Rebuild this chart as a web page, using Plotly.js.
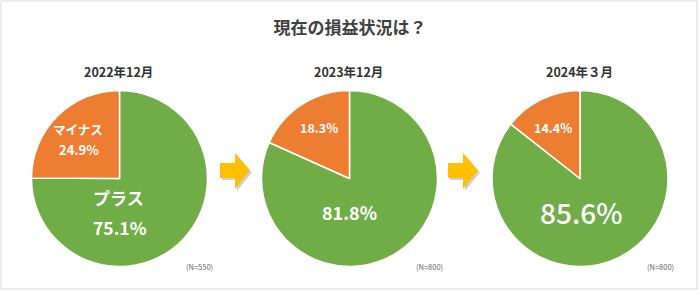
<!DOCTYPE html>
<html>
<head>
<meta charset="utf-8">
<script src="https://cdn.plot.ly/plotly-3.0.1.min.js"></script>
<style>html,body{margin:0;padding:0;background:#fff;}#chart{width:700px;height:291px;}</style>
</head>
<body>
<div id="chart"></div>
<script>
// ---- data ----
const chartTitle = "現在の損益状況は？";
const periods = ["2022年12月", "2023年12月", "2024年３月"];
const categories = ["プラス", "マイナス"];
const plusValues = [75.1, 81.8, 85.6];
const minusValues = [24.9, 18.3, 14.4];
const sampleSizes = [550, 800, 800];

// ---- layout helpers ----
const W = 700, H = 291;
const px = x => x / W;
const py = y => 1 - y / H;
const FONT = '"Noto Sans CJK JP", "Noto Sans", sans-serif';
const centers = [119.5, 349.5, 580];
const cy = 178.5, R = 88;
const colors = ["#70AD47", "#ED7D31"];

const traces = periods.map((p, i) => ({
  type: "pie",
  values: [plusValues[i], minusValues[i]],
  labels: categories,
  sort: false,
  direction: "clockwise",
  rotation: 0,
  textinfo: "none",
  hoverinfo: "label+percent",
  showlegend: false,
  marker: {colors: colors, line: {color: "#ffffff", width: 1.5}},
  domain: {x: [px(centers[i] - R), px(centers[i] + R)], y: [py(cy + R), py(cy - R)]}
}));

const annotations = [];
const white = "#ffffff";
function ann(text, x, y, size, color, weight) {
  annotations.push({
    text: text, xref: "paper", yref: "paper", x: px(x), y: py(y),
    xanchor: "center", yanchor: "middle", showarrow: false,
    font: {family: FONT, size: size, color: color, weight: weight || 700}
  });
}
// subtitles and N
periods.forEach((p, i) => {
  ann(p, centers[i] - 1, 71, 12.5, "#333333", 600);
  ann("(N=" + sampleSizes[i] + ")", centers[i] + 80, 266, 7.5, "#666666", 400);
});
const fmt = v => v.toFixed(1) + "%";
// pie 1 labels
ann(categories[1], 78, 129, 12.5, white);
ann(fmt(minusValues[0]), 79, 150, 13, white);
ann(categories[0], 118, 197, 17, white);
ann(fmt(plusValues[0]), 120, 227, 17.5, white);
// pie 2
ann(fmt(minusValues[1]), 319, 127, 12.5, white);
ann(fmt(plusValues[1]), 349, 212, 18, white);
// pie 3
ann(fmt(minusValues[2]), 553, 127, 12.5, white);
ann(fmt(plusValues[2]), 581, 212, 28, white, 500);

// arrows
function arrowPath(x0, dx, dy) {
  const pts = [[x0, 163], [x0 + 15, 163], [x0 + 15, 153], [x0 + 30, 170.5], [x0 + 15, 189], [x0 + 15, 178], [x0, 178]];
  return "M" + pts.map(p => px(p[0] + dx) + "," + py(p[1] + dy)).join(" L") + " Z";
}
const shapes = [];
[220, 448].forEach(x0 => {
  shapes.push({type: "path", xref: "paper", yref: "paper", path: arrowPath(x0, 2, 2), fillcolor: "rgba(120,120,120,0.35)", line: {width: 0}});
  shapes.push({type: "path", xref: "paper", yref: "paper", path: arrowPath(x0, 0, 0), fillcolor: "#FFC000", line: {width: 0}});
});
shapes.push({type: "rect", xref: "paper", yref: "paper", x0: px(1), x1: px(697), y0: py(289), y1: py(1), line: {color: "#d9d9d9", width: 1}, fillcolor: "rgba(0,0,0,0)"});

const layout = {
  width: W, height: H,
  margin: {l: 0, r: 0, t: 0, b: 0},
  paper_bgcolor: "#ffffff",
  title: {text: chartTitle, x: 0.5, xanchor: "center", y: py(28), yanchor: "middle", yref: "paper",
          font: {family: FONT, size: 17, color: "#404040", weight: 700}},
  annotations: annotations,
  shapes: shapes
};
Plotly.newPlot("chart", traces, layout, {displayModeBar: false, staticPlot: true});
</script>
</body>
</html>
